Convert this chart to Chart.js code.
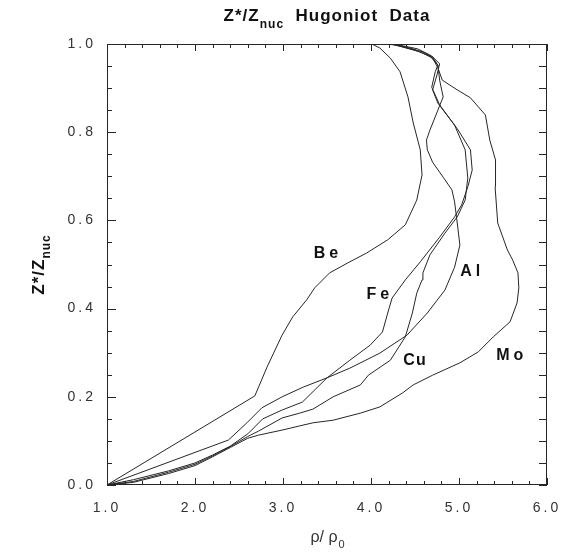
<!DOCTYPE html>
<html>
<head>
<meta charset="utf-8">
<script src="https://cdn.jsdelivr.net/npm/chart.js@4.4.1/dist/chart.umd.min.js"></script>
<style>
  body { margin: 0; background: #fff; }
  #wrap { width: 573px; height: 555px; }
</style>
</head>
<body>
<div id="wrap"><canvas id="chart" width="573" height="555"></canvas></div>
<script>
// rho/rho0 and Z*/Znuc along each Hugoniot
const beRho = [1.0, 2.68, 2.82, 2.99, 3.11, 3.27, 3.36, 3.53, 3.73, 3.95, 4.19, 4.39, 4.52, 4.58, 4.56, 4.48, 4.42, 4.33, 4.22, 4.10, 4.01];
const beZ   = [0.0, 0.202, 0.268, 0.340, 0.381, 0.420, 0.447, 0.481, 0.503, 0.526, 0.556, 0.590, 0.646, 0.703, 0.760, 0.821, 0.880, 0.937, 0.968, 0.991, 1.0];

const alRho = [1.0, 2.38, 2.59, 2.76, 2.99, 3.23, 3.50, 3.76, 4.10, 4.41, 4.64, 4.84, 4.95, 5.01, 4.99, 4.95, 4.92, 4.82, 4.70, 4.64, 4.63, 4.67, 4.76, 4.82, 4.78, 4.76, 4.70, 4.59, 4.44, 4.24];
const alZ   = [0.0, 0.102, 0.141, 0.175, 0.200, 0.222, 0.243, 0.265, 0.299, 0.340, 0.390, 0.442, 0.494, 0.544, 0.578, 0.642, 0.669, 0.698, 0.732, 0.760, 0.782, 0.805, 0.850, 0.880, 0.918, 0.952, 0.970, 0.982, 0.991, 1.0];

const feRho = [1.0, 1.3, 1.7, 2.0, 2.2, 2.4, 2.6, 2.77, 2.99, 3.22, 3.50, 3.76, 3.99, 4.13, 4.19, 4.24, 4.39, 4.56, 4.78, 4.95, 5.03, 5.10, 5.15, 5.13, 4.99, 4.78, 4.69, 4.73, 4.76, 4.67, 4.50, 4.27, 4.16];
const feZ   = [0.0, 0.012, 0.032, 0.050, 0.068, 0.088, 0.116, 0.150, 0.170, 0.188, 0.243, 0.283, 0.317, 0.347, 0.390, 0.424, 0.465, 0.506, 0.562, 0.608, 0.635, 0.676, 0.714, 0.760, 0.805, 0.862, 0.902, 0.937, 0.952, 0.973, 0.986, 0.998, 1.0];

const cuRho = [1.0, 1.3, 1.7, 2.0, 2.2, 2.4, 2.6, 2.72, 2.99, 3.19, 3.34, 3.57, 3.88, 3.97, 4.22, 4.31, 4.39, 4.47, 4.52, 4.58, 4.59, 4.67, 4.84, 4.98, 5.07, 5.10, 5.07, 4.95, 4.76, 4.70, 4.75, 4.78, 4.69, 4.53, 4.31, 4.19];
const cuZ   = [0.0, 0.008, 0.029, 0.047, 0.066, 0.087, 0.110, 0.122, 0.152, 0.163, 0.172, 0.200, 0.227, 0.249, 0.283, 0.311, 0.336, 0.390, 0.435, 0.465, 0.481, 0.522, 0.571, 0.608, 0.646, 0.696, 0.760, 0.816, 0.866, 0.896, 0.930, 0.955, 0.973, 0.989, 0.998, 1.0];

const moRho = [1.0, 1.3, 1.7, 2.0, 2.2, 2.4, 2.6, 2.72, 3.0, 3.19, 3.34, 3.57, 3.88, 4.10, 4.36, 4.48, 4.70, 5.01, 5.22, 5.39, 5.58, 5.66, 5.68, 5.67, 5.61, 5.55, 5.44, 5.41, 5.42, 5.41, 5.35, 5.30, 5.13, 4.98, 4.81, 4.76, 4.70, 4.56, 4.33, 4.22];
const moZ   = [0.0, 0.006, 0.026, 0.044, 0.064, 0.085, 0.106, 0.113, 0.125, 0.134, 0.141, 0.147, 0.163, 0.177, 0.209, 0.227, 0.249, 0.277, 0.302, 0.336, 0.370, 0.413, 0.447, 0.481, 0.510, 0.533, 0.594, 0.676, 0.721, 0.737, 0.782, 0.839, 0.878, 0.896, 0.918, 0.946, 0.968, 0.982, 0.995, 1.0];

// curve labels, placed in data coordinates
const labelNames = ['Be', 'Al', 'Fe', 'Cu', 'Mo'];
const labelRho = [3.51, 5.15, 4.10, 4.50, 5.60];
const labelZ = [0.524, 0.485, 0.431, 0.281, 0.293];

const xTickValues = [1, 2, 3, 4, 5, 6];
const yTickValues = [0, 0.2, 0.4, 0.6, 0.8, 1.0];

function toPoints(xs, ys) {
    return xs.map((x, i) => ({x: x, y: ys[i]}));
}

const curves = [
    [beRho, beZ], [alRho, alZ], [feRho, feZ], [cuRho, cuZ], [moRho, moZ]
];

const ink = '#262626';
const tickFont = {family: 'Liberation Sans', size: 14};

const framePlugin = {
    id: 'frame',
    beforeDraw(chart) {
        chart.ctx.letterSpacing = '3px';
    },
    afterDraw(chart) {
        const {ctx, chartArea: a, scales: {x, y}} = chart;
        ctx.save();
        ctx.letterSpacing = '0px';
        ctx.strokeStyle = ink;
        ctx.lineWidth = 1;
        ctx.strokeRect(a.left + 0.5, a.top + 0.5, a.right - a.left - 1, a.bottom - a.top - 1);

        // inward tick marks on all four sides
        ctx.beginPath();
        for (let i = 0; i <= 25; i++) {
            const px = Math.round(x.getPixelForValue(1 + i * 0.2)) + 0.5;
            const len = i % 5 === 0 ? 7 : 4;
            ctx.moveTo(px, a.bottom); ctx.lineTo(px, a.bottom - len);
            ctx.moveTo(px, a.top); ctx.lineTo(px, a.top + len);
        }
        for (let i = 0; i <= 20; i++) {
            const py = Math.round(y.getPixelForValue(i * 0.05)) + 0.5;
            const len = i % 4 === 0 ? 9 : 5;
            ctx.moveTo(a.left, py); ctx.lineTo(a.left + len, py);
            ctx.moveTo(a.right, py); ctx.lineTo(a.right - 8, py);
        }
        ctx.stroke();

        ctx.fillStyle = '#111';

        // element labels
        ctx.font = 'bold 16px "Liberation Sans"';
        ctx.textAlign = 'center';
        ctx.textBaseline = 'middle';
        labelNames.forEach((name, i) => {
            ctx.letterSpacing = name === 'Cu' ? '1px' : '4px';
            ctx.fillText(name, x.getPixelForValue(labelRho[i]), y.getPixelForValue(labelZ[i]));
        });

        // title with subscript
        ctx.textAlign = 'left';
        ctx.textBaseline = 'alphabetic';
        ctx.letterSpacing = '1px';
        const main = 'bold 17px "Liberation Sans"';
        const sub = 'bold 12px "Liberation Sans"';
        const parts = [['Z*/Z', main, 0], ['nuc', sub, 7], ['  Hugoniot  Data', main, 0]];
        let w = 0;
        parts.forEach(p => { ctx.font = p[1]; w += ctx.measureText(p[0]).width; });
        let tx = (a.left + a.right) / 2 - w / 2;
        parts.forEach(p => {
            ctx.font = p[1];
            ctx.fillText(p[0], tx, 21 + p[2]);
            tx += ctx.measureText(p[0]).width;
        });

        // y axis title, rotated
        ctx.save();
        ctx.translate(44, (a.top + a.bottom) / 2);
        ctx.rotate(-Math.PI / 2);
        const yParts = [['Z*/Z', 'bold 17px "Liberation Sans"', 0], ['nuc', 'bold 12px "Liberation Sans"', 6]];
        w = 0;
        yParts.forEach(p => { ctx.font = p[1]; w += ctx.measureText(p[0]).width; });
        tx = -w / 2;
        yParts.forEach(p => {
            ctx.font = p[1];
            ctx.fillText(p[0], tx, p[2]);
            tx += ctx.measureText(p[0]).width;
        });
        ctx.restore();

        // x axis title
        ctx.fillStyle = '#333';
        ctx.letterSpacing = '0px';
        const xParts = [['\u03c1/ \u03c1', '16px "Liberation Sans"', 0], ['0', '11px "Liberation Sans"', 6]];
        w = 0;
        xParts.forEach(p => { ctx.font = p[1]; w += ctx.measureText(p[0]).width; });
        tx = (a.left + a.right) / 2 - w / 2;
        xParts.forEach(p => {
            ctx.font = p[1];
            ctx.fillText(p[0], tx, 542 + p[2]);
            tx += ctx.measureText(p[0]).width + 1;
        });
        ctx.restore();
    }
};

new Chart(document.getElementById('chart').getContext('2d'), {
    type: 'scatter',
    data: {
        datasets: curves.map((c, i) => ({
            label: labelNames[i],
            data: toPoints(c[0], c[1]),
            showLine: true,
            borderColor: ink,
            borderWidth: 1,
            pointRadius: 0,
            tension: 0,
            fill: false
        }))
    },
    options: {
        responsive: false,
        animation: false,
        layout: {
            padding: {top: 44, right: 26, left: 0, bottom: 0}
        },
        scales: {
            x: {
                type: 'linear',
                min: 1,
                max: 6,
                afterBuildTicks: scale => { scale.ticks = xTickValues.map(v => ({value: v})); },
                afterFit: scale => { scale.height = 70; },
                grid: {display: false, drawTicks: false},
                border: {display: false},
                ticks: {
                    font: tickFont,
                    color: '#333',
                    padding: 15,
                    maxRotation: 0,
                    callback: v => v.toFixed(1)
                }
            },
            y: {
                type: 'linear',
                min: 0,
                max: 1,
                afterBuildTicks: scale => { scale.ticks = yTickValues.map(v => ({value: v})); },
                afterFit: scale => { scale.width = 107; },
                grid: {display: false, drawTicks: false},
                border: {display: false},
                ticks: {
                    font: tickFont,
                    color: '#333',
                    padding: 11,
                    callback: v => v.toFixed(1)
                }
            }
        },
        plugins: {
            legend: {display: false},
            tooltip: {enabled: false}
        }
    },
    plugins: [framePlugin]
});
</script>
</body>
</html>
